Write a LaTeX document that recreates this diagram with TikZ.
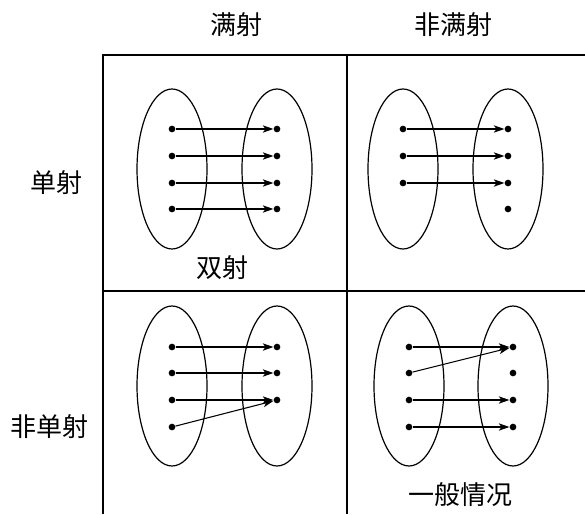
\documentclass[tikz,border=0pt]{standalone}
\usepackage{fontspec}
\newfontfamily\cjk{Noto Sans CJK SC}
\usetikzlibrary{arrows.meta}
\begin{document}
\begin{tikzpicture}[x=0.75pt,y=-0.75pt,
  gridline/.style={line width=1.1pt},
  setell/.style={line width=0.9pt},
  dot/.style={circle,fill=black,inner sep=0pt,minimum size=5pt},
  maparrow/.style={line width=0.8pt,-{Stealth[length=8pt,width=5.5pt,inset=2.2pt]}},
  lbl/.style={font=\cjk\fontsize{19.5}{22}\selectfont}]
\useasboundingbox (0,0) rectangle (585,514);
% grid
\coordinate (g1) at (103,514);
\coordinate (g2) at (103,55);
\coordinate (g3) at (585,55);
\coordinate (g4) at (347,55);
\coordinate (g5) at (347,514);
\coordinate (g6) at (103,291);
\coordinate (g7) at (585,291);
\draw[gridline] (g1) -- (g2) -- (g3);
\draw[gridline] (g4) -- (g5);
\draw[gridline] (g6) -- (g7);
% labels
\node[lbl] (h1) at (236,25) {满射};
\node[lbl] (h2) at (453,25) {非满射};
\node[lbl] (r1) at (57,183) {单射};
\node[lbl] (r2) at (50,427) {非单射};
\node[lbl] (c1) at (222,268) {双射};
\node[lbl] (c4) at (460,495) {一般情况};
% ellipses
\draw[setell] (172,169) ellipse [x radius=35,y radius=80];
\draw[setell] (277,169) ellipse [x radius=35,y radius=80];
\draw[setell] (403,169) ellipse [x radius=35,y radius=80];
\draw[setell] (508,169) ellipse [x radius=35,y radius=80];
\draw[setell] (172,386) ellipse [x radius=35,y radius=80];
\draw[setell] (277,386) ellipse [x radius=35,y radius=80];
\draw[setell] (409,386) ellipse [x radius=35,y radius=80];
\draw[setell] (513,386) ellipse [x radius=35,y radius=80];
% Quadrant 1
\foreach \i/\y in {1/129,2/156,3/183,4/209}{
  \node[dot] (a\i) at (172,\y) {};
  \node[dot] (b\i) at (277,\y) {};
}
\foreach \i in {1,2,3,4}{ \draw[maparrow] (a\i) -- (b\i); }
% Quadrant 2
\foreach \i/\y in {1/129,2/156,3/183}{
  \node[dot] (c\i) at (403,\y) {};
}
\foreach \i/\y in {1/129,2/156,3/183,4/209}{
  \node[dot] (d\i) at (508,\y) {};
}
\foreach \i in {1,2,3}{ \draw[maparrow] (c\i) -- (d\i); }
% Quadrant 3
\foreach \i/\y in {1/347,2/373,3/400,4/427}{
  \node[dot] (e\i) at (172,\y) {};
}
\foreach \i/\y in {1/347,2/373,3/400}{
  \node[dot] (f\i) at (277,\y) {};
}
\draw[maparrow] (e1) -- (f1);
\draw[maparrow] (e2) -- (f2);
\draw[maparrow] (e3) -- (f3);
\draw[maparrow] (e4) -- (f3);
% Quadrant 4
\foreach \i/\y in {1/347,2/373,3/400,4/427}{
  \node[dot] (p\i) at (409,\y) {};
  \node[dot] (q\i) at (513,\y) {};
}
\draw[maparrow] (p1) -- (q1);
\draw[maparrow] (p2) -- (q1);
\draw[maparrow] (p3) -- (q3);
\draw[maparrow] (p4) -- (q4);
\end{tikzpicture}
\end{document}
